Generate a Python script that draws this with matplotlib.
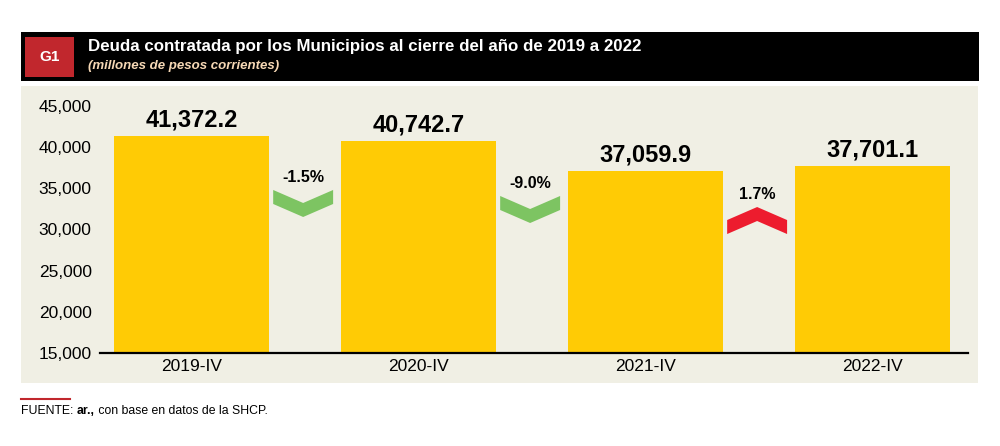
import matplotlib
matplotlib.use('Agg')
import matplotlib.pyplot as plt
from matplotlib.patches import Rectangle, Polygon
from matplotlib.ticker import FuncFormatter
from matplotlib import font_manager

# datos
periodos = ['2019-IV', '2020-IV', '2021-IV', '2022-IV']
deuda = [41372.2, 40742.7, 37059.9, 37701.1]
y_ticks = [15000, 20000, 25000, 30000, 35000, 40000, 45000]

titulo = 'Deuda contratada por los Municipios al cierre del año de 2019 a 2022'
subtitulo = '(millones de pesos corrientes)'

# posicion vertical (valor de datos) del borde superior de cada flecha
flecha_y = [34800, 34070, 32730]

AMARILLO = '#FFCB05'
FONDO = '#F0EFE4'
VERDE = '#7DC462'
ROJO = '#ED1C2E'
ROJO_G1 = '#C1272D'


def pick_font(names):
    for n in names:
        try:
            font_manager.findfont(n, fallback_to_default=False)
            return n
        except Exception:
            continue
    return 'DejaVu Sans'


FONT = pick_font(['Liberation Sans', 'Arial', 'DejaVu Sans'])
FONT_N = pick_font(['Liberation Sans Narrow', 'Liberation Sans', 'DejaVu Sans'])
plt.rcParams['font.family'] = [FONT, 'DejaVu Sans']

W, H = 1000, 446
fig = plt.figure(figsize=(W / 100, H / 100), dpi=100)


def px_rect(x0, y0, x1, y1, color):
    r = Rectangle((x0 / W, 1 - y1 / H), (x1 - x0) / W, (y1 - y0) / H,
                  transform=fig.transFigure, color=color, lw=0, zorder=0)
    fig.add_artist(r)


# encabezado
px_rect(21, 32, 979, 81, 'black')
px_rect(25, 37, 74, 77, ROJO_G1)
fig.text(49.5 / W, 1 - 57 / H, 'G1', color='white', fontsize=11, fontweight='bold',
         ha='center', va='center')
fig.text(88 / W, 1 - 47 / H, titulo, color='white', fontsize=12.15, fontweight='bold',
         ha='left', va='center')
fig.text(88 / W, 1 - 66 / H, subtitulo, color='#F6D8B5', fontsize=9.5,
         fontweight='bold', style='italic', ha='left', va='center')

# panel
px_rect(21, 86, 978, 383, FONDO)

# fuente
fs_fuente = 8.8
fig.add_artist(plt.Line2D([21 / W, 70 / W], [1 - 399 / H, 1 - 399 / H],
                          transform=fig.transFigure, color=ROJO_G1, lw=1.5))
t1 = fig.text(21 / W, 1 - 411 / H, 'FUENTE: ', fontsize=fs_fuente, family=FONT_N,
              ha='left', va='center')
fig.canvas.draw()
r = fig.canvas.get_renderer()
bb = t1.get_window_extent(r)
t2 = fig.text(bb.x1 / W, 1 - 411 / H, 'ar.,', fontsize=fs_fuente, family=FONT_N,
              fontweight='bold', ha='left', va='center')
bb2 = t2.get_window_extent(r)
fig.text(bb2.x1 / W, 1 - 411 / H, ' con base en datos de la SHCP.', fontsize=fs_fuente,
         family=FONT_N, ha='left', va='center')

# grafica
ax = fig.add_axes([100 / W, 1 - 353 / H, 868 / W, 247 / H])
ax.patch.set_visible(False)
x = list(range(len(periodos)))
ax.bar(x, deuda, width=0.683, color=AMARILLO, zorder=2)
ax.set_xlim(-0.405, 3.419)
ax.set_ylim(15000, 45000)
ax.set_yticks(y_ticks)
ax.yaxis.set_major_formatter(FuncFormatter(lambda v, p: f'{v:,.0f}'))
ax.set_xticks(x)
ax.set_xticklabels(periodos)
ax.tick_params(axis='both', length=0, labelsize=12.5)
ax.tick_params(axis='y', pad=6)
ax.tick_params(axis='x', pad=4)
for s in ['top', 'right', 'left']:
    ax.spines[s].set_visible(False)
ax.spines['bottom'].set_linewidth(1.6)
ax.spines['bottom'].set_zorder(3)

for xi, v in zip(x, deuda):
    ax.annotate(f'{v:,.1f}', (xi, v), xytext=(0, 11.5), textcoords='offset points',
                ha='center', va='center', fontsize=17, fontweight='bold')

# flechas de variacion
w = 0.132
h = 3280
t = 1700
for i in range(len(deuda) - 1):
    var = (deuda[i + 1] / deuda[i] - 1) * 100
    xc = i + 0.49
    top = flecha_y[i]
    if var < 0:
        pts = [(xc - w, top), (xc, top - (h - t)), (xc + w, top),
               (xc + w, top - t), (xc, top - h), (xc - w, top - t)]
        col = VERDE
    else:
        bot = top - h
        pts = [(xc - w, bot), (xc, bot + (h - t)), (xc + w, bot),
               (xc + w, bot + t), (xc, top), (xc - w, bot + t)]
        col = ROJO
    ax.add_patch(Polygon(pts, closed=True, color=col, lw=0, zorder=2))
    ax.text(xc, top + 1550, f'{var:.1f}%', ha='center', va='center',
            fontsize=11.5, fontweight='bold')

fig.savefig('out.png', dpi=100)
